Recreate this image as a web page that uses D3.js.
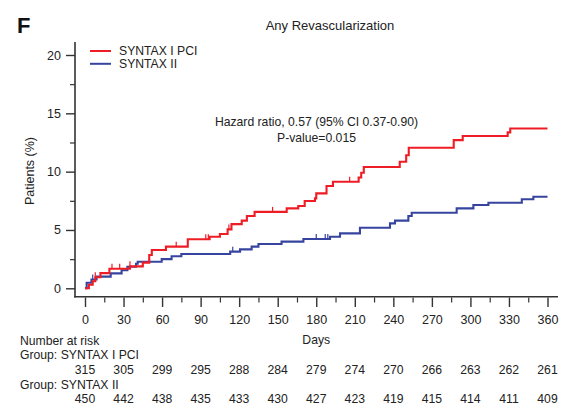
<!DOCTYPE html>
<html>
<head>
<meta charset="utf-8">
<script src="https://cdn.jsdelivr.net/npm/d3@7"></script>
<style>
  html, body { margin: 0; padding: 0; background: #fff; }
  svg { display: block; font-family: "Liberation Sans", Arial, sans-serif; }
</style>
</head>
<body>
<div id="chart"></div>
<script>
// Kaplan-Meier style cumulative incidence (%) of any revascularization
const groups = ["SYNTAX I PCI", "SYNTAX II"];
const colors = ["#ee1c25", "#3644a0"];

// Step points: [day, cumulative %]
const pciSteps = [
  [0, 0], [3, 0.3], [6, 0.6], [8, 0.95], [12, 1.3], [19, 1.68], [35, 1.88], [45, 2.2],
  [50, 2.85], [52, 3.28], [63, 3.57], [80, 4.2], [97, 4.42], [105, 4.65], [111, 5.05],
  [114, 5.5], [122, 5.8], [126, 6.2], [132, 6.55], [157, 6.85], [166, 7.05], [171, 7.48],
  [179, 7.71], [180, 8.14], [188, 8.77], [193, 9.14], [213, 9.5], [215, 9.9], [217, 10.4],
  [245, 10.85], [250, 11.4], [252, 12.05], [287, 12.7], [294, 13.05], [329, 13.37],
  [331, 13.7], [360, 13.7]
];
const syntax2Steps = [
  [0, 0], [1.3, 0.48], [5, 0.75], [9, 1.0], [20, 1.28], [28.5, 1.55], [33, 1.85],
  [39.7, 2.1], [41, 2.28], [59.7, 2.5], [67.4, 2.75], [75, 2.94], [113, 3.14],
  [120.7, 3.34], [129.7, 3.57], [135, 3.8], [153, 4.0], [170, 4.22], [190.7, 4.42],
  [198.5, 4.71], [214, 5.19], [237.4, 5.57], [241.3, 5.8], [251.7, 6.2], [254.3, 6.48],
  [289.3, 6.85], [302.3, 7.14], [314, 7.34], [340, 7.63], [349, 7.85], [360, 7.85]
];

// Censoring marks (days)
const pciCensored = [8, 21, 27, 35, 71, 94, 96, 112, 146, 206];
const syntax2Censored = [6, 115, 180, 187, 189];

// Axis ticks
const xTicks = [0, 30, 60, 90, 120, 150, 180, 210, 240, 270, 300, 330, 360];
const xMinorTicks = [15, 45, 75, 105, 135, 165, 195, 225, 255, 285, 315, 345];
const yTicks = [0, 5, 10, 15, 20];
const yMinorTicks = [2.5, 7.5, 12.5, 17.5];

// Number at risk
const pciAtRisk = [315, 305, 299, 295, 288, 284, 279, 274, 270, 266, 263, 262, 261];
const syntax2AtRisk = [450, 442, 438, 435, 433, 430, 427, 423, 419, 415, 414, 411, 409];

const W = 562, H = 414;
const svg = d3.select("#chart").append("svg").attr("width", W).attr("height", H);

const x = d3.scaleLinear().domain([0, 360]).range([85, 547.5]);
const y = d3.scaleLinear().domain([0, 20]).range([288.3, 55]);

const textColor = "#222";
const fs = 12.2;

// Panel letter and title
svg.append("text").attr("x", 17).attr("y", 33)
  .attr("font-size", 22).attr("font-weight", "bold").attr("fill", "#111").text("F");
svg.append("text").attr("x", 330).attr("y", 29.5).attr("text-anchor", "middle")
  .attr("font-size", 13).attr("fill", textColor).text("Any Revascularization");

// Frame lines
svg.append("line").attr("x1", 75).attr("x2", 75).attr("y1", 42).attr("y2", 297.5)
  .attr("stroke", "#333").attr("stroke-width", 1.6);
svg.append("line").attr("x1", 74.2).attr("x2", 558).attr("y1", 296.8).attr("y2", 296.8)
  .attr("stroke", "#333").attr("stroke-width", 1.6);

// Y axis
const yAxis = svg.append("g").attr("transform", "translate(75,0)")
  .call(d3.axisLeft(y).tickValues(yTicks).tickSize(9).tickPadding(5));
yAxis.select(".domain").remove();
yAxis.selectAll(".tick line").attr("stroke", "#333").attr("stroke-width", 1.4);
yAxis.selectAll(".tick text").attr("font-size", 12.5).attr("fill", textColor)
  .attr("font-family", "Liberation Sans, Arial, sans-serif");
const yMinor = svg.append("g").attr("transform", "translate(75,0)")
  .call(d3.axisLeft(y).tickValues(yMinorTicks).tickSize(5).tickFormat(""));
yMinor.select(".domain").remove();
yMinor.selectAll(".tick line").attr("stroke", "#333").attr("stroke-width", 1.2);

svg.append("text").attr("transform", "translate(34,171) rotate(-90)")
  .attr("text-anchor", "middle").attr("font-size", 12.5).attr("fill", textColor)
  .text("Patients (%)");

// X axis (ticks hang below the frame)
const xAxis = svg.append("g").attr("transform", "translate(0,297.5)")
  .call(d3.axisBottom(x).tickValues(xTicks).tickSize(9.5).tickPadding(8));
xAxis.select(".domain").remove();
xAxis.selectAll(".tick line").attr("stroke", "#333").attr("stroke-width", 1.4);
xAxis.selectAll(".tick text").attr("font-size", 12.5).attr("fill", textColor)
  .attr("font-family", "Liberation Sans, Arial, sans-serif");
const xMinor = svg.append("g").attr("transform", "translate(0,297.5)")
  .call(d3.axisBottom(x).tickValues(xMinorTicks).tickSize(5).tickFormat(""));
xMinor.select(".domain").remove();
xMinor.selectAll(".tick line").attr("stroke", "#333").attr("stroke-width", 1.2);

svg.append("text").attr("x", x(180)).attr("y", 344).attr("text-anchor", "middle")
  .attr("font-size", fs).attr("fill", textColor).text("Days");

// Curves
const line = d3.line().x(d => x(d[0])).y(d => y(d[1])).curve(d3.curveStepAfter);
const series = [pciSteps, syntax2Steps];
const censored = [pciCensored, syntax2Censored];

function valueAt(steps, day) {
  let v = 0;
  for (const [d, val] of steps) { if (d <= day) v = val; else break; }
  return v;
}

// Draw SYNTAX II first so SYNTAX I PCI sits on top
[1, 0].forEach(i => {
  svg.append("path").datum(series[i]).attr("d", line)
    .attr("fill", "none").attr("stroke", colors[i]).attr("stroke-width", 2.1);
  svg.append("g").selectAll("line").data(censored[i]).join("line")
    .attr("x1", d => x(d)).attr("x2", d => x(d))
    .attr("y1", d => y(valueAt(series[i], d)))
    .attr("y2", d => y(valueAt(series[i], d)) - 5)
    .attr("stroke", colors[i]).attr("stroke-width", 1.2);
});

// Legend
groups.forEach((g, i) => {
  const ly = 51 + i * 12.8;
  svg.append("line").attr("x1", 90).attr("x2", 111).attr("y1", ly).attr("y2", ly)
    .attr("stroke", colors[i]).attr("stroke-width", 2);
  svg.append("text").attr("x", 119).attr("y", ly + 4.3).attr("font-size", fs)
    .attr("fill", textColor).text(g);
});

// Statistics annotation
svg.append("text").attr("x", 316.5).attr("y", 126).attr("text-anchor", "middle")
  .attr("font-size", fs).attr("fill", textColor)
  .text("Hazard ratio, 0.57 (95% CI 0.37-0.90)");
svg.append("text").attr("x", 316.5).attr("y", 141.5).attr("text-anchor", "middle")
  .attr("font-size", fs).attr("fill", textColor).text("P-value=0.015");

// Number at risk table
svg.append("text").attr("x", 20).attr("y", 345).attr("font-size", fs)
  .attr("fill", textColor).text("Number at risk");
svg.append("text").attr("x", 20).attr("y", 358.5).attr("font-size", fs)
  .attr("fill", textColor).text("Group: " + groups[0]);
svg.append("g").selectAll("text").data(pciAtRisk).join("text")
  .attr("x", (d, i) => x(xTicks[i])).attr("y", 373.5).attr("text-anchor", "middle")
  .attr("font-size", fs).attr("fill", textColor).text(d => d);
svg.append("text").attr("x", 20).attr("y", 388.5).attr("font-size", fs)
  .attr("fill", textColor).text("Group: " + groups[1]);
svg.append("g").selectAll("text").data(syntax2AtRisk).join("text")
  .attr("x", (d, i) => x(xTicks[i])).attr("y", 402.5).attr("text-anchor", "middle")
  .attr("font-size", fs).attr("fill", textColor).text(d => d);
</script>
</body>
</html>
